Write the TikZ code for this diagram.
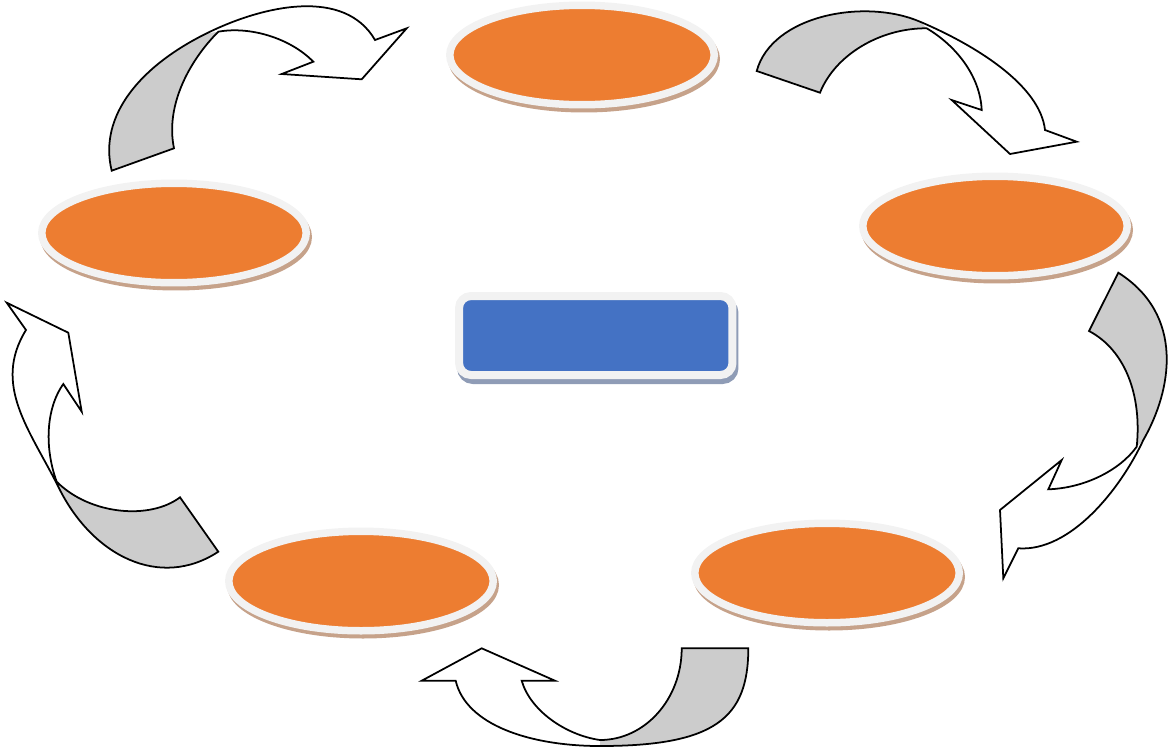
\documentclass[tikz,border=0pt]{standalone}
\usetikzlibrary{shapes.geometric}

\definecolor{stageorange}{HTML}{ED7D31}
\definecolor{coreblue}{HTML}{4472C4}
\definecolor{ringgray}{HTML}{F2F2F2}
\definecolor{shadebrown}{HTML}{C6A28A}
\definecolor{shadeblue}{HTML}{8F9CB6}
\definecolor{arrowgray}{HTML}{CCCCCC}

\tikzset{
  stage/.style={ellipse, fill=stageorange, draw=ringgray, line width=0.15cm,
    minimum width=5.29cm, minimum height=1.99cm, inner sep=0pt,
    preaction={fill=shadebrown, draw=shadebrown,
      transform canvas={xshift=0.04cm, yshift=-0.08cm}}},
  core/.style={rectangle, rounded corners=0.24cm, fill=coreblue, draw=ringgray,
    line width=0.16cm, minimum width=5.47cm, minimum height=1.58cm, inner sep=0pt,
    preaction={fill=shadeblue, draw=shadeblue,
      transform canvas={xshift=0.04cm, yshift=-0.1cm}}},
  band/.style={black, line width=1pt, line join=miter},
  back/.style={fill=arrowgray}
}

\begin{document}
\begin{tikzpicture}[x=0.02cm, y=-0.02cm]
        \useasboundingbox (0,0) rectangle (1168,751);

        % the five stages and the centre box
        \node[stage] (top) at (582,55) {};
        \node[stage] (right) at (995,226) {};
        \node[stage] (lowright) at (827,573) {};
        \node[stage] (lowleft) at (361,581) {};
        \node[stage] (left) at (174,233) {};
        \node[core] (core) at (595.75,335.5) {};

        % left -> top
        \fill[back] (111.7,170.7) .. controls (98,115) and (141.7,65.3) .. (206.7,33.3)
            -- (218.3,31.7) .. controls (190,60) and (165,105) .. (174,148.3) -- cycle;
        \draw[band] (111.7,170.7) .. controls (98,115) and (141.7,65.3) .. (206.7,33.3)
            .. controls (265,4.5) and (345,-12) .. (375,40)
            -- (406.7,28.3) -- (361.7,79.3) -- (281.7,74) -- (313.3,61.7)
            .. controls (290,38) and (250,26) .. (218.3,31.7)
            .. controls (190,60) and (165,105) .. (174,148.3) -- cycle;

        % top -> right
        \fill[back] (756.7,71) .. controls (772,15) and (865,-2) .. (920,21.7)
            -- (926.7,28.3) .. controls (880,28) and (835,55) .. (820,92.7) -- cycle;
        \draw[band] (756.7,71) .. controls (772,15) and (865,-2) .. (920,21.7)
            .. controls (975,45) and (1040,85) .. (1045,130)
            -- (1076.7,141.7) -- (1010,154) -- (951.7,100) -- (981.7,110)
            .. controls (980,75) and (955,45) .. (926.7,28.3)
            .. controls (880,28) and (835,55) .. (820,92.7) -- cycle;

        % right -> lower right
        \fill[back] (1118.3,272.7) .. controls (1185,315) and (1172,390) .. (1143.3,440)
            -- (1136.7,446.7) .. controls (1142,395) and (1125,350) .. (1089,331) -- cycle;
        \draw[band] (1118.3,272.7) .. controls (1185,315) and (1172,390) .. (1143.3,440)
            .. controls (1120,490) and (1070,552) .. (1018.3,548.3)
            -- (1003.3,578.3) -- (1000,510) -- (1061.7,460) -- (1048.3,489.3)
            .. controls (1085,488) and (1120,470) .. (1136.7,446.7)
            .. controls (1142,395) and (1125,350) .. (1089,331) -- cycle;

        % lower right -> lower left
        \fill[back] (748.3,648.3) .. controls (748.3,718) and (715,746) .. (600,746)
            -- (600,740) .. controls (645,740) and (681.7,699) .. (681.7,648.3) -- cycle;
        \draw[band] (748.3,648.3) .. controls (748.3,718) and (715,746) .. (600,746)
            .. controls (530,746) and (466,725) .. (455.7,680.7)
            -- (421.7,680.7) -- (481.7,648.3) -- (555,680.7) -- (521.7,680.7)
            .. controls (530,710) and (565,735) .. (600,740)
            .. controls (645,740) and (681.7,699) .. (681.7,648.3) -- cycle;

        % lower left -> left
        \fill[back] (218.3,551.7) .. controls (160,590) and (92,556) .. (58.3,486.7)
            -- (56.7,481.7) .. controls (90,515) and (150,520) .. (180,497.3) -- cycle;
        \draw[band] (218.3,551.7) .. controls (160,590) and (92,556) .. (58.3,486.7)
            .. controls (30,430) and (-8,385) .. (26,330)
            -- (6.7,302.7) -- (68.3,332.7) -- (81.7,411.7) -- (63.3,384)
            .. controls (45,410) and (45,450) .. (56.7,481.7)
            .. controls (90,515) and (150,520) .. (180,497.3) -- cycle;
    \end{tikzpicture}
\end{document}
